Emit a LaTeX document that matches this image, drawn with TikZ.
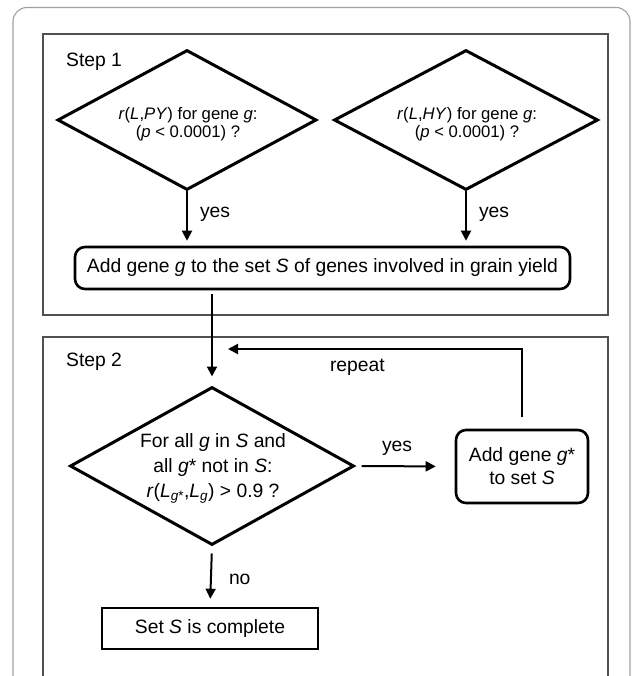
\documentclass[tikz,border=0pt]{standalone}
\usepackage{fontspec}
\setmainfont{Liberation Sans}
\usetikzlibrary{shapes.geometric}
\usetikzlibrary{arrows.meta}

\begin{document}
\begin{tikzpicture}[x=1pt,y=1pt,yscale=-1,xscale=1,
	outer/.style={draw={rgb,255:red,160;green,160;blue,160},line width=1.1pt,rounded corners=14pt},
	frame/.style={draw={rgb,255:red,80;green,80;blue,80},line width=1.1pt},
	test/.style={diamond,draw,line width=3pt,inner sep=0pt},
	qtext/.style={inner sep=0pt,align=center},
	act/.style={draw,line width=2.6pt,rounded corners=10pt,inner sep=0pt,align=center,font=\fontsize{19.3}{23}\selectfont},
	flow/.style={line width=2pt,-{Triangle[length=10pt,width=10pt]}},
	lbl/.style={inner sep=0pt,font=\fontsize{19.3}{22}\selectfont}]
	\useasboundingbox (0,0) rectangle (631,676);
	\clip (0,0) rectangle (631,676);

	%Shape: outer frame and the two step boxes
	\draw[outer] (13,7.5) rectangle (630,720);
	\draw[frame] (43,34) rectangle (608,315);
	\draw[frame] (43,337) rectangle (608,720);

	% Text Node
	\node[lbl,anchor=west] (stepa) at (66,62) {Step 1};
	\node[lbl,anchor=west] (stepb) at (66,362) {Step 2};

	% Step 1
	\node[test,minimum width=259pt,minimum height=140pt] (pyq) at (187,120) {};
	\node[qtext,font=\fontsize{16.7}{18.5}\selectfont] (pyqtxt) at (188,124) {\textit{r}(\textit{L},\textit{PY}) for gene \textit{g}:\\(\textit{p} < 0.0001) ?};
	\node[test,minimum width=264pt,minimum height=140pt] (hyq) at (466,120) {};
	\node[qtext,font=\fontsize{16.7}{18.5}\selectfont] (hyqtxt) at (467,124) {\textit{r}(\textit{L},\textit{HY}) for gene \textit{g}:\\(\textit{p} < 0.0001) ?};
	\node[act,minimum width=495pt,minimum height=42pt] (addg) at (322.5,268) {Add gene \textit{g} to the set \textit{S} of genes involved in grain yield};

	\draw[flow,shorten >=5pt] (pyq.south) -- (pyq.south |- addg.north) node[lbl,pos=0.42,anchor=west,xshift=12pt] {yes};
	\draw[flow,shorten >=5pt] (hyq.south) -- (hyq.south |- addg.north) node[lbl,pos=0.42,anchor=west,xshift=12pt] {yes};

	% Step 2
	\node[test,minimum width=284pt,minimum height=158pt] (cmp) at (212,466) {};
	\node[qtext,font=\fontsize{19.3}{25}\selectfont] (cmptxt) at (213,468) {For all \textit{g} in \textit{S} and\\all \textit{g}* not in \textit{S}:\\\textit{r}(\textit{L}\textsubscript{\textit{g}*},\textit{L}\textsubscript{\textit{g}}) > 0.9 ?};
	\node[act,minimum width=132pt,minimum height=73pt] (addgs) at (522,466.5) {Add gene \textit{g}*\\to set \textit{S}};
	\node[draw,line width=2.6pt,inner sep=0pt,minimum width=216pt,minimum height=41pt,font=\fontsize{19.3}{22}\selectfont] (done) at (210,628.5) {Set \textit{S} is complete};
	\coordinate (back) at (228,349);

	\draw[flow,shorten <=4pt,shorten >=9pt] (addg.south -| cmp.north) -- (cmp.north);
	\draw[flow,shorten <=6pt,shorten >=19pt] (cmp.east) -- (addgs.west) node[lbl,midway,above=10pt,xshift=-8pt] {yes};
	\draw[flow,shorten <=12pt] (addgs.north) |- (back) node[lbl,pos=0.78,below=9pt] {repeat};
	\draw[flow,shorten <=7pt,shorten >=8pt] (cmp.south) -- (done.north) node[lbl,midway,anchor=west,xshift=17pt,yshift=-3pt] {no};
\end{tikzpicture}
\end{document}
